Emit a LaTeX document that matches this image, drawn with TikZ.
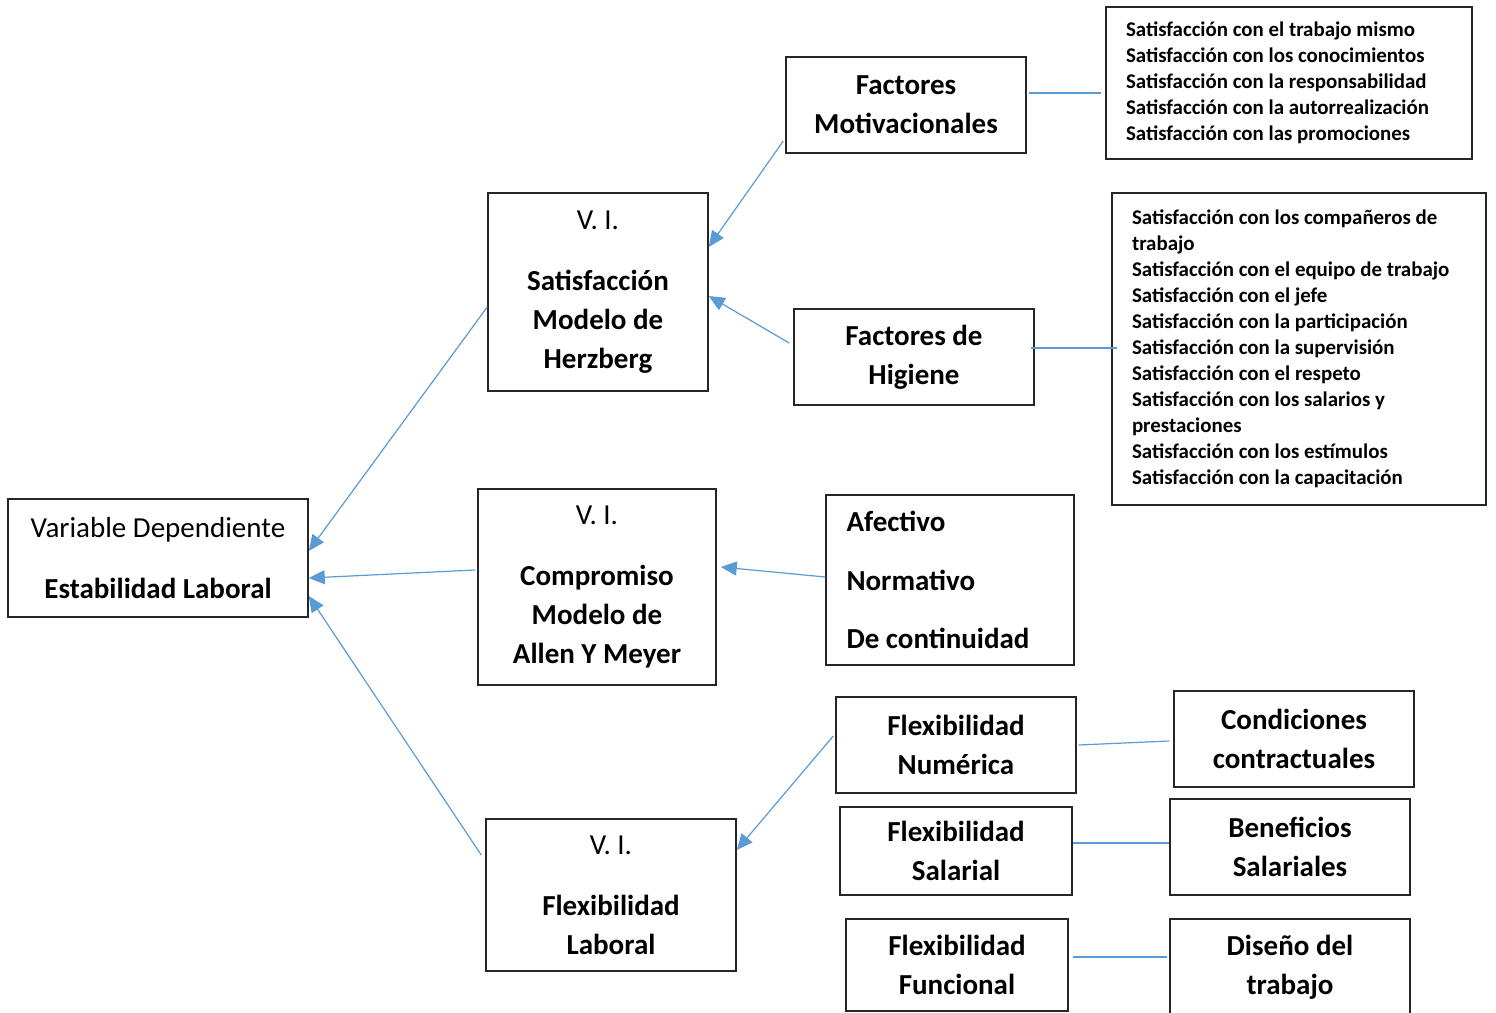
\documentclass[tikz,border=0pt]{standalone}
\usepackage{fontspec}
\setmainfont{Carlito}
\usetikzlibrary{arrows.meta}
\definecolor{conn}{RGB}{91,155,213}
\begin{document}
\begin{tikzpicture}[x=0.5pt,y=-0.5pt,
 box/.style={draw=black!85, line width=0.75pt, rectangle, align=center, inner sep=0pt, font=\fontsize{14.5}{19.4}\selectfont},
 lst/.style={draw=black!85, line width=0.75pt, rectangle, align=flush left, inner xsep=10pt, inner ysep=0pt, font=\fontsize{10.45}{13}\selectfont\bfseries},
 arr/.style={draw=conn, line width=0.6pt, -{Triangle[length=8pt,width=7pt]}},
 ln/.style={draw=conn, line width=0.6pt}]
\useasboundingbox[fill=white] (0,0) rectangle (1496,1013);

\node[box, minimum width=150pt, minimum height=59pt] (vd) at (158,558) {Variable Dependiente\\[11pt]\textbf{Estabilidad Laboral}};
\node[box, minimum width=110pt, minimum height=99pt] (sat) at (598,292) {V. I.\\[11pt]\textbf{Satisfacción}\\\textbf{Modelo de}\\\textbf{Herzberg}};
\node[box, minimum width=119pt, minimum height=98pt] (com) at (597,587) {V. I.\\[11pt]\textbf{Compromiso}\\\textbf{Modelo de}\\\textbf{Allen Y Meyer}};
\node[box, minimum width=125pt, minimum height=76pt] (flx) at (611,895) {V. I.\\[11pt]\textbf{Flexibilidad}\\\textbf{Laboral}};

\node[box, minimum width=120pt, minimum height=48pt] (fm) at (906,105) {\textbf{Factores}\\\textbf{Motivacionales}};
\node[box, minimum width=120pt, minimum height=48pt] (fh) at (914,357) {\textbf{Factores de}\\\textbf{Higiene}};

\node[lst, text width=163pt, minimum height=76pt] (ml) at (1289,83) {Satisfacción con el trabajo mismo\\Satisfacción con los conocimientos\\Satisfacción con la responsabilidad\\Satisfacción con la autorrealización\\Satisfacción con las promociones};
\node[lst, text width=167pt, minimum height=156pt] (hl) at (1299,349) {Satisfacción con los compañeros de\\trabajo\\Satisfacción con el equipo de trabajo\\Satisfacción con el jefe\\Satisfacción con la participación\\Satisfacción con la supervisión\\Satisfacción con el respeto\\Satisfacción con los salarios y\\prestaciones\\Satisfacción con los estímulos\\Satisfacción con la capacitación};

\node[box, align=flush left, inner xsep=10.25pt, text width=103.5pt, minimum height=85pt] (af) at (950,580) {\textbf{Afectivo}\\[10pt]\textbf{Normativo}\\[10pt]\textbf{De continuidad}};

\node[box, minimum width=120pt, minimum height=48pt] (fn) at (956,745) {\textbf{Flexibilidad}\\\textbf{Numérica}};
\node[box, minimum width=116pt, minimum height=44pt] (fs) at (956,851) {\textbf{Flexibilidad}\\\textbf{Salarial}};
\node[box, minimum width=111pt, minimum height=46pt] (ff) at (957,965) {\textbf{Flexibilidad}\\\textbf{Funcional}};

\node[box, minimum width=120pt, minimum height=48pt] (cc) at (1294,739) {\textbf{Condiciones}\\\textbf{contractuales}};
\node[box, minimum width=120pt, minimum height=48pt] (bs) at (1290,847) {\textbf{Beneficios}\\\textbf{Salariales}};
\node[box, minimum width=120pt, minimum height=48pt] (dt) at (1290,967) {\textbf{Diseño del}\\\textbf{trabajo}};

% arrows
\draw[arr] ([yshift=-7.5pt]sat.west) -- ([yshift=3.5pt]vd.east);
\draw[arr] ([xshift=-1pt,yshift=8.5pt]com.west) -- ([yshift=-10pt]vd.east);
\draw[arr] ([xshift=-2pt,yshift=20pt]flx.west) -- ([yshift=-19pt]vd.east);
\draw[arr] ([xshift=-1pt,yshift=-18pt]fm.west) -- ([yshift=22.5pt]sat.east);
\draw[arr] ([xshift=-2pt,yshift=7pt]fh.west) -- ([yshift=-2pt]sat.east);
\draw[arr] ([yshift=1.5pt]af.west) -- ([xshift=2pt,yshift=10pt]com.east);
\draw[arr] ([xshift=-1pt,yshift=4.5pt]fn.west) -- ([yshift=22.5pt]flx.east);

% plain lines
\draw[ln] ([xshift=1pt,yshift=6pt]fm.east) -- ([xshift=-2pt,yshift=-5pt]ml.west);
\draw[ln] ([xshift=-2pt,yshift=4.5pt]fh.east) -- ([xshift=3pt,yshift=0.5pt]hl.west);
\draw[ln] ([xshift=1pt]fn.east) -- ([xshift=-2pt,yshift=-1pt]cc.west);
\draw[ln] ([yshift=4pt]fs.east) -- ([yshift=2pt]bs.west);
\draw[ln] ([xshift=2pt,yshift=4pt]ff.east) -- ([xshift=-1pt,yshift=5pt]dt.west);
\end{tikzpicture}
\end{document}
